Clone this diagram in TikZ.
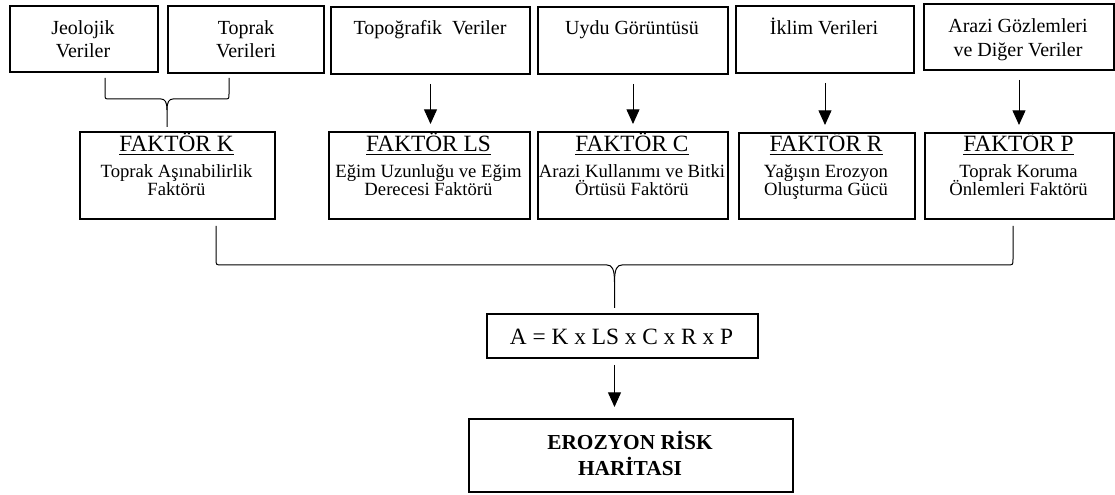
\documentclass[tikz,border=0pt]{standalone}
\usepackage{fontspec}
\setmainfont{Liberation Serif}
\usetikzlibrary{arrows.meta,calc}

% box from its top-left and bottom-right corners, in pixel units
\newcommand\pxbox[5]{\node[box,anchor=north west,
  minimum width={(#4-#2)*0.75pt},minimum height={(#5-#3)*0.75pt}] (#1) at (#2,#3) {};}

\begin{document}
\begin{tikzpicture}[x=0.75pt,y=-0.75pt,
  box/.style={draw,line width=1.5pt,inner sep=0pt},
  toptxt/.style={anchor=base,inner sep=0pt,font=\fontsize{15}{18}\selectfont},
  ttl/.style={anchor=base,inner sep=0pt,font=\fontsize{17.5}{20}\selectfont},
  subtxt/.style={anchor=base,inner sep=0pt,font=\fontsize{14}{16}\selectfont},
  frm/.style={anchor=base,inner sep=0pt,font=\fontsize{17.5}{20}\selectfont},
  erotxt/.style={anchor=base,inner sep=0pt,font=\bfseries\fontsize{16}{19}\selectfont},
  arr/.style={line width=0.75pt,-{Triangle[width=9.75pt,length=11pt]}},
  brace/.style={line width=0.75pt,line join=round}]

\useasboundingbox (0,0) rectangle (1115,495);

% data sources
\pxbox{jeo}{9}{5}{157}{71}
\pxbox{top}{167}{5}{323}{72}
\pxbox{topo}{330}{6}{529}{73}
\pxbox{uydu}{537}{6}{727}{73}
\pxbox{ikl}{735}{5}{913}{72}
\pxbox{arz}{923}{3}{1113}{69}

\node[toptxt] (jeo1) at (83,35) {Jeolojik};
\node[toptxt] (jeo2) at (83,58) {Veriler};
\node[toptxt] (top1) at (246,35) {Toprak};
\node[toptxt] (top2) at (246,58) {Verileri};
\node[toptxt] (topo1) at (430,35) {Topoğrafik~ Veriler};
\node[toptxt] (uydu1) at (632,35) {Uydu Görüntüsü};
\node[toptxt] (ikl1) at (824,35) {İklim Verileri};
\node[toptxt] (arz1) at (1018,33) {Arazi Gözlemleri};
\node[toptxt] (arz2) at (1018,57) {ve Diğer Veriler};

% factors
\pxbox{K}{79}{131}{274}{218}
\pxbox{LS}{328}{131}{529}{218}
\pxbox{C}{537}{131}{727}{218}
\pxbox{R}{738}{132}{914}{218}
\pxbox{P}{924}{132}{1113}{218}

\node[ttl] (K0) at (176.5,152) {\underline{FAKTÖR K}};
\node[subtxt] (K1) at (176.5,178) {Toprak Aşınabilirlik};
\node[subtxt] (K2) at (176.5,196) {Faktörü};
\node[ttl] (LS0) at (428.5,152) {\underline{FAKTÖR LS}};
\node[subtxt] (LS1) at (428.5,178) {Eğim Uzunluğu ve Eğim};
\node[subtxt] (LS2) at (428.5,196) {Derecesi Faktörü};
\node[ttl] (C0) at (632,152) {\underline{FAKTÖR C}};
\node[subtxt] (C1) at (632,178) {Arazi Kullanımı ve Bitki};
\node[subtxt] (C2) at (632,196) {Örtüsü Faktörü};
\node[ttl] (R0) at (826,152) {\underline{FAKTÖR R}};
\node[subtxt] (R1) at (826,178) {Yağışın Erozyon};
\node[subtxt] (R2) at (826,196) {Oluşturma Gücü};
\node[ttl] (P0) at (1018.5,152) {\underline{FAKTÖR P}};
\node[subtxt] (P1) at (1018.5,178) {Toprak Koruma};
\node[subtxt] (P2) at (1018.5,196) {Önlemleri Faktörü};

% data to factor arrows
\foreach \a/\b in {topo/LS,uydu/C,ikl/R,arz/P}
  \draw[arr,shorten <=6.75pt,shorten >=5.25pt] (\a.south) -- (\a.south |- \b.north);

% brace joining geology and soil data into factor K
\coordinate (kL) at (105,78);
\coordinate (kR) at (229,78);
\coordinate (kT) at (167,127);
\draw[brace] (kL) -- (105,94) .. controls (105,99) .. (110,99) -- (161,99)
  .. controls (165,99) and (167,102) .. (167,110) -- (kT);
\draw[brace] (kR) -- (229,94) .. controls (229,99) .. (224,99) -- (173,99)
  .. controls (169,99) and (167,102) .. (167,110);

% brace gathering all factors
\coordinate (bL) at (216,226);
\coordinate (bR) at (1013,226);
\coordinate (bC) at (614.5,265);
\coordinate (bT) at (614.5,308);
\draw[brace] (bL) -- (216,259) .. controls (216,265) .. (222,265) -- (607,265)
  .. controls (612,265) and (614.5,269) .. (614.5,282) -- (bT);
\draw[brace] (bR) -- (1013,259) .. controls (1013,265) .. (1007,265) -- (622,265)
  .. controls (617,265) and (614.5,269) .. (614.5,282);

% equation and result
\pxbox{form}{486}{313}{757}{357}
\node[frm] (form1) at (621.5,345) {A = K x LS x C x R x P};

\pxbox{eros}{468}{418}{792}{491}
\node[erotxt] (eros1) at (630,450) {EROZYON RİSK};
\node[erotxt] (eros2) at (630,475) {HARİTASI};

\draw[arr,shorten <=4.5pt,shorten >=8.25pt] (form.south -| bC) -- (eros.north -| bC);

\end{tikzpicture}
\end{document}
